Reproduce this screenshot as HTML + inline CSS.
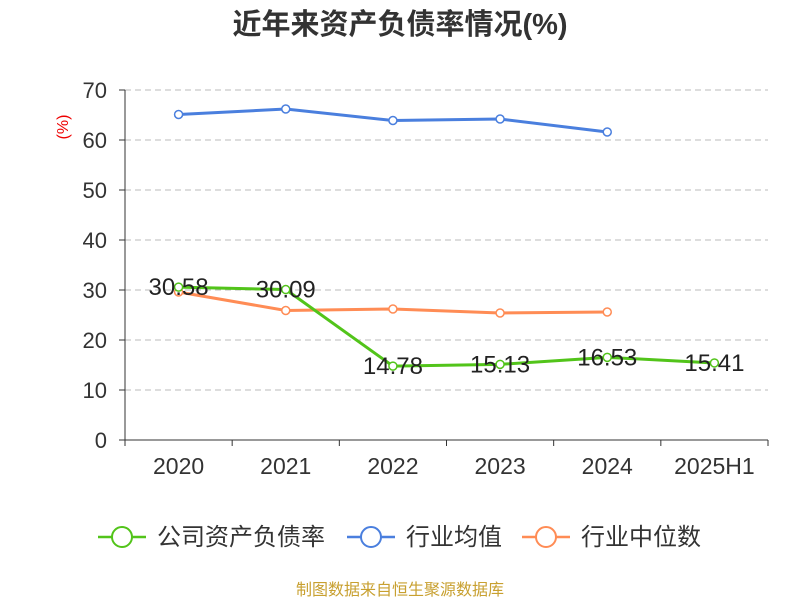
<!DOCTYPE html>
<html><head><meta charset="utf-8"><style>
body{margin:0;background:#fff;font-family:"Liberation Sans","Noto Sans CJK SC",sans-serif}
</style></head><body>
<svg width="800" height="600" xmlns="http://www.w3.org/2000/svg" font-family="Liberation Sans, Noto Sans CJK SC, sans-serif">
<text x="400" y="34" text-anchor="middle" font-size="29" font-weight="bold" fill="#333">近年来资产负债率情况(%)</text>
<text x="68" y="127" font-size="16" fill="#e00" transform="rotate(-90 68 127)" text-anchor="middle">(%)</text>
<g id="grid"></g><g id="axes"></g><g id="series"></g>
<g id="legend">
<g><line x1="98" y1="537" x2="146" y2="537" stroke="#52c41a" stroke-width="2.5"/><circle cx="122" cy="537" r="10" fill="#fff" stroke="#52c41a" stroke-width="2"/><text x="157" y="545" font-size="24" fill="#333">公司资产负债率</text></g>
<g><line x1="347" y1="537" x2="395" y2="537" stroke="#4a7fde" stroke-width="2.5"/><circle cx="371" cy="537" r="10" fill="#fff" stroke="#4a7fde" stroke-width="2"/><text x="406" y="545" font-size="24" fill="#333">行业均值</text></g>
<g><line x1="522" y1="537" x2="570" y2="537" stroke="#ff8c55" stroke-width="2.5"/><circle cx="546" cy="537" r="10" fill="#fff" stroke="#ff8c55" stroke-width="2"/><text x="581" y="545" font-size="24" fill="#333">行业中位数</text></g>
</g>
<text x="400" y="595" text-anchor="middle" font-size="16" fill="#c8a030">制图数据来自恒生聚源数据库</text>
</svg>
<script>
const categories=["2020","2021","2022","2023","2024","2025H1"];
const company=[30.58,30.09,14.78,15.13,16.53,15.41];
const industryAvg=[65.1,66.2,63.9,64.2,61.6];
const industryMedian=[29.6,25.9,26.2,25.4,25.6];
const yTicks=[0,10,20,30,40,50,60,70];
const NS="http://www.w3.org/2000/svg";
const x0=125,x1=768,y0=440,yTop=90;
const bw=(x1-x0)/categories.length;
const X=i=>x0+bw*(i+0.5);
const Y=v=>y0-(v/70)*(y0-yTop);
function mk(p,t,a){const e=document.createElementNS(NS,t);for(const k in a)e.setAttribute(k,a[k]);p.appendChild(e);return e;}
const grid=document.getElementById('grid'),axes=document.getElementById('axes'),ser=document.getElementById('series');
yTicks.forEach(v=>{
  if(v>0){const g=mk(grid,'line',{x1:x0,x2:x1,y1:Y(v),y2:Y(v),stroke:'#bbb','stroke-dasharray':'6,4'});
  
  }
  mk(axes,'line',{x1:x0-6,x2:x0,y1:Y(v),y2:Y(v),stroke:'#333'});
  const t=mk(axes,'text',{x:x0-18,y:Y(v)+8,'text-anchor':'end','font-size':22,fill:'#333'});t.textContent=v;
  
  
});
mk(axes,'line',{x1:x0,x2:x0,y1:yTop,y2:y0,stroke:'#333'});
mk(axes,'line',{x1:x0,x2:x1,y1:y0,y2:y0,stroke:'#333'});
for(let i=0;i<=categories.length;i++)mk(axes,'line',{x1:x0+bw*i,x2:x0+bw*i,y1:y0,y2:y0+6,stroke:'#333'});
categories.forEach((c,i)=>{const t=mk(axes,'text',{x:X(i),y:y0+34,'text-anchor':'middle','font-size':23,fill:'#333'});t.textContent=c;
  
  });
function line(data,color,name,labels){
  const g=mk(ser,'g',{});
  
  
  mk(g,'polyline',{points:data.map((v,i)=>X(i)+','+Y(v)).join(' '),fill:'none',stroke:color,'stroke-width':3});
  data.forEach((v,i)=>{const c=mk(g,'circle',{cx:X(i),cy:Y(v),r:4,fill:'#fff',stroke:color,'stroke-width':1.5});
    
    
    if(labels){const t=mk(g,'text',{x:X(i),y:Y(v)+8,'text-anchor':'middle','font-size':24,fill:'#222'});t.textContent=v.toFixed(2);
      
      }
  });
}
line(industryAvg,'#4a7fde','industry-avg-line',false);
line(industryMedian,'#ff8c55','industry-median-line',false);
line(company,'#52c41a','company-line',true);
</script>
</body></html>
